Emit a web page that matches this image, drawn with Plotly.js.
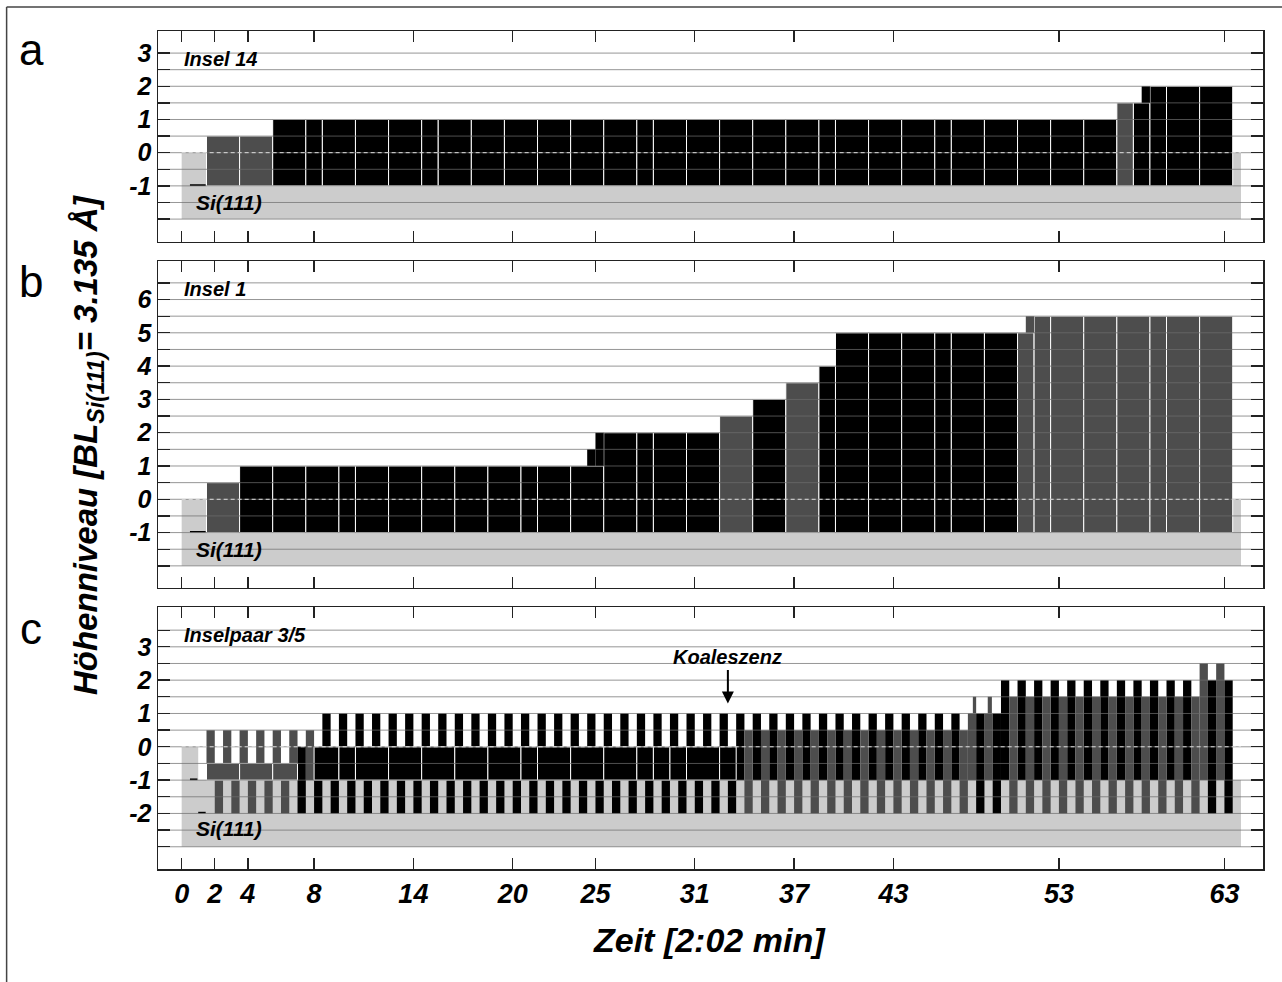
<!DOCTYPE html>
<html><head><meta charset="utf-8">
<script src="https://cdn.plot.ly/plotly-3.0.1.min.js"></script>
<style>html,body{margin:0;padding:0;background:#fff}#chart{width:1282px;height:982px}</style>
</head><body><div id="chart"></div>
<script>
// ---------------- data ----------------
const xTickVals = [0, 2, 4, 8, 14, 20, 25, 31, 37, 43, 53, 63];

// Panel a (Insel 14): island bars between consecutive edges, bottom at level -1
const aEdges = [1.5, 3.5, 5.5, 7.5, 8.5, 10.5, 12.5, 14.5, 15.5, 17.5, 19.5, 21.5, 23.5, 25.5, 27.5, 28.5, 30.5, 32.5, 34.5, 36.5, 38.5, 39.5, 41.5, 43.5, 45.5, 46.5, 48.5, 50.5, 52.5, 54.5, 56.5, 57.5, 58.5, 59.5, 61.5, 63.5];
const aTop = [0.5, 0.5, 1, 1, 1, 1, 1, 1, 1, 1, 1, 1, 1, 1, 1, 1, 1, 1, 1, 1, 1, 1, 1, 1, 1, 1, 1, 1, 1, 1, 1.5, 1.5, 2, 2, 2];
const aColor = ['d', 'd', 'k', 'k', 'k', 'k', 'k', 'k', 'k', 'k', 'k', 'k', 'k', 'k', 'k', 'k', 'k', 'k', 'k', 'k', 'k', 'k', 'k', 'k', 'k', 'k', 'k', 'k', 'k', 'k', 'd', 'k', 'k', 'k', 'k'];
const aStepStart = [58.0], aStepEnd = [58.5], aStepBase = [1.5], aStepTop = [2], aStepColor = ['k'];
const aDashStart = [0.5], aDashEnd = [1.45], aDashLevel = [-1];
const aSubStart = [0, 0, 63.5], aSubEnd = [64, 1.5, 64], aSubBase = [-2, -1, -1], aSubTop = [-1, 0, 0];
const aGrid = [-2, -1.5, -1, -0.5, 0, 0.5, 1, 1.5, 2, 2.5, 3];
const aTickText = ['', '', '-1', '', '0', '', '1', '', '2', '', '3'];

// Panel b (Insel 1)
const bEdges = [1.5, 3.5, 5.5, 7.5, 9.5, 10.5, 12.5, 14.5, 16.5, 18.5, 20.5, 21.5, 23.5, 25.5, 27.5, 28.5, 30.5, 32.5, 34.5, 36.5, 38.5, 39.5, 41.5, 43.5, 45.5, 46.5, 48.5, 50.5, 51.5, 52.5, 54.5, 56.5, 58.5, 59.5, 61.5, 63.5];
const bTop = [0.5, 1, 1, 1, 1, 1, 1, 1, 1, 1, 1, 1, 1, 2, 2, 2, 2, 2.5, 3, 3.5, 4, 5, 5, 5, 5, 5, 5, 5, 5.5, 5.5, 5.5, 5.5, 5.5, 5.5, 5.5];
const bColor = ['d', 'k', 'k', 'k', 'k', 'k', 'k', 'k', 'k', 'k', 'k', 'k', 'k', 'k', 'k', 'k', 'k', 'd', 'k', 'd', 'k', 'k', 'k', 'k', 'k', 'k', 'k', 'd', 'd', 'd', 'd', 'd', 'd', 'd', 'd'];
const bStepStart = [24.5, 25.0, 51.0], bStepEnd = [25.0, 25.5, 51.5], bStepBase = [1, 1, 5], bStepTop = [1.5, 2, 5.5], bStepColor = ['k', 'k', 'd'];
const bDashStart = [0.5], bDashEnd = [1.45], bDashLevel = [-1];
const bSubStart = [0, 0, 63.5], bSubEnd = [64, 1.5, 64], bSubBase = [-2, -1, -1], bSubTop = [-1, 0, 0];
const bGrid = [-2, -1.5, -1, -0.5, 0, 0.5, 1, 1.5, 2, 2.5, 3, 3.5, 4, 4.5, 5, 5.5, 6, 6.5];
const bTickText = ['', '', '-1', '', '0', '', '1', '', '2', '', '3', '', '4', '', '5', '', '6', ''];

// Panel c (Inselpaar 3/5): per-frame half-width stripes of the two islands
const cFrames = [2, 3, 4, 5, 6, 7, 8, 9, 10, 11, 12, 13, 14, 15, 16, 17, 18, 19, 20, 21, 22, 23, 24, 25, 26, 27, 28, 29, 30, 31, 32, 33, 34, 35, 36, 37, 38, 39, 40, 41, 42, 43, 44, 45, 46, 47, 48, 49, 50, 51, 52, 53, 54, 55, 56, 57, 58, 59, 60, 61, 62, 63];
// island on terrace -1 (left half of each frame)
const cLeftTop = [0.5, 0.5, 0.5, 0.5, 0.5, 0.5, 0.5, 1, 1, 1, 1, 1, 1, 1, 1, 1, 1, 1, 1, 1, 1, 1, 1, 1, 1, 1, 1, 1, 1, 1, 1, 1, 1, 1, 1, 1, 1, 1, 1, 1, 1, 1, 1, 1, 1, 1, 1, 1, 2, 2, 2, 2, 2, 2, 2, 2, 2, 2, 2, 2, 2.5, 2.5];
const cLeftColor = ['d', 'd', 'd', 'd', 'd', 'd', 'd', 'k', 'k', 'k', 'k', 'k', 'k', 'k', 'k', 'k', 'k', 'k', 'k', 'k', 'k', 'k', 'k', 'k', 'k', 'k', 'k', 'k', 'k', 'k', 'k', 'k', 'k', 'k', 'k', 'k', 'k', 'k', 'k', 'k', 'k', 'k', 'k', 'k', 'k', 'k', 'd', 'd', 'k', 'k', 'k', 'k', 'k', 'k', 'k', 'k', 'k', 'k', 'k', 'k', 'd', 'd'];
// island on terrace -2 (right half of each frame)
const cRightTop = [-0.5, -0.5, -0.5, -0.5, -0.5, 0, 0, 0, 0, 0, 0, 0, 0, 0, 0, 0, 0, 0, 0, 0, 0, 0, 0, 0, 0, 0, 0, 0, 0, 0, 0, 0, 0.5, 0.5, 0.5, 0.5, 0.5, 0.5, 0.5, 0.5, 0.5, 0.5, 0.5, 0.5, 0.5, 0.5, 1, 1, 1.5, 1.5, 1.5, 1.5, 1.5, 1.5, 1.5, 1.5, 1.5, 1.5, 1.5, 1.5, 2, 2];
const cRightColor = ['d', 'd', 'd', 'd', 'd', 'k', 'k', 'k', 'k', 'k', 'k', 'k', 'k', 'k', 'k', 'k', 'k', 'k', 'k', 'k', 'k', 'k', 'k', 'k', 'k', 'k', 'k', 'k', 'k', 'k', 'k', 'k', 'd', 'd', 'd', 'd', 'd', 'd', 'd', 'd', 'd', 'd', 'd', 'd', 'd', 'd', 'k', 'k', 'd', 'd', 'd', 'd', 'd', 'd', 'd', 'd', 'd', 'd', 'd', 'd', 'k', 'k'];
const cLeftBase = -1, cRightBase = -2;
// overlap (both islands) blocks
const cCommonStart = [1.5, 3.5, 5.5, 8.0, 9.5, 10.5, 12.5, 14.5, 16.5, 18.5, 20.5, 21.5, 23.5, 25.5, 27.5, 28.5, 29.5, 30.5, 32.5];
const cCommonEnd = [3.5, 5.5, 7.0, 9.5, 10.5, 12.5, 14.5, 16.5, 18.5, 20.5, 21.5, 23.5, 25.5, 27.5, 28.5, 29.5, 30.5, 32.5, 33.5];
const cCommonBase = [-1, -1, -1, -1, -1, -1, -1, -1, -1, -1, -1, -1, -1, -1, -1, -1, -1, -1, -1];
const cCommonTop = [-0.5, -0.5, -0.5, 0, 0, 0, 0, 0, 0, 0, 0, 0, 0, 0, 0, 0, 0, 0, 0];
const cCommonColor = ['d', 'd', 'd', 'k', 'k', 'k', 'k', 'k', 'k', 'k', 'k', 'k', 'k', 'k', 'k', 'k', 'k', 'k', 'k'];
// narrow partial steps near frames 48/49
const cStepStart = [47.8, 48.7], cStepEnd = [48.0, 48.95], cStepBase = [1, 1], cStepTop = [1.5, 1.5], cStepColor = ['d', 'd'];
const cDashStart = [0.5, 1.0], cDashEnd = [0.95, 1.45], cDashLevel = [-1, -2];
const cSubStart = [0, 0], cSubEnd = [64, 1.0], cSubBase = [-3, -1], cSubTop = [-1, 0];
const cGrid = [-3, -2.5, -2, -1.5, -1, -0.5, 0, 0.5, 1, 1.5, 2, 2.5, 3, 3.5];
const cTickText = ['', '', '-2', '', '-1', '', '0', '', '1', '', '2', '', '3', ''];

// ---------------- styling ----------------
const COL = {k: '#000000', d: '#4d4d4d', s: '#cccccc'};
const X_RANGE = [-1.43, 65.33];
const GRID_COLOR = 'rgba(110,110,110,0.72)';
const FONT = 'Liberation Sans, Arial, Helvetica, sans-serif';

function bars(starts, ends, bases, tops, colors, xa, ya, outline) {
  return {
    type: 'bar', xaxis: xa, yaxis: ya,
    x: starts.map((s, i) => (s + ends[i]) / 2),
    width: starts.map((s, i) => ends[i] - s),
    base: bases,
    y: tops.map((t, i) => t - bases[i]),
    marker: {color: colors.map(c => COL[c]), line: {color: '#ffffff', width: outline ? 1 : 0}},
    hoverinfo: 'skip', showlegend: false
  };
}
function fromEdges(edges, tops, colors, base, xa, ya) {
  const st = edges.slice(0, -1), en = edges.slice(1);
  return bars(st, en, st.map(() => base), tops, colors, xa, ya, true);
}
function dashes(st, en, lvl, xa, ya) {
  return bars(st, en, lvl, lvl.map(v => v + 0.05), lvl.map(() => 'k'), xa, ya, false);
}
function gridTrace(vals, xa, ya) {
  const x = [], y = [];
  vals.forEach(v => { x.push(X_RANGE[0], X_RANGE[1], null); y.push(v, v, null); });
  return {type: 'scatter', mode: 'lines', x, y, xaxis: xa, yaxis: ya,
    line: {color: GRID_COLOR, width: 1}, hoverinfo: 'skip', showlegend: false};
}
function zeroTrace(xa, ya) {
  return {type: 'scatter', mode: 'lines', x: [0, 64], y: [0, 0], xaxis: xa, yaxis: ya,
    line: {color: '#e0e0e0', width: 1, dash: '4px,3px'}, hoverinfo: 'skip', showlegend: false};
}

const traces = [];
// panel a
traces.push(bars(aSubStart, aSubEnd, aSubBase, aSubTop, aSubStart.map(() => 's'), 'x', 'y', false));
traces.push(fromEdges(aEdges, aTop, aColor, -1, 'x', 'y'));
traces.push(bars(aStepStart, aStepEnd, aStepBase, aStepTop, aStepColor, 'x', 'y', false));
traces.push(dashes(aDashStart, aDashEnd, aDashLevel, 'x', 'y'));
traces.push(gridTrace(aGrid, 'x', 'y'));
traces.push(zeroTrace('x', 'y'));
// panel b
traces.push(bars(bSubStart, bSubEnd, bSubBase, bSubTop, bSubStart.map(() => 's'), 'x2', 'y2', false));
traces.push(fromEdges(bEdges, bTop, bColor, -1, 'x2', 'y2'));
traces.push(bars(bStepStart, bStepEnd, bStepBase, bStepTop, bStepColor, 'x2', 'y2', false));
traces.push(dashes(bDashStart, bDashEnd, bDashLevel, 'x2', 'y2'));
traces.push(gridTrace(bGrid, 'x2', 'y2'));
traces.push(zeroTrace('x2', 'y2'));
// panel c
traces.push(bars(cSubStart, cSubEnd, cSubBase, cSubTop, cSubStart.map(() => 's'), 'x3', 'y3', false));
traces.push(bars(cFrames.map(f => f - 0.5), cFrames.map(f => f), cFrames.map(() => cLeftBase), cLeftTop, cLeftColor, 'x3', 'y3', false));
traces.push(bars(cFrames.map(f => f), cFrames.map(f => f + 0.5), cFrames.map(() => cRightBase), cRightTop, cRightColor, 'x3', 'y3', false));
traces.push(bars(cCommonStart, cCommonEnd, cCommonBase, cCommonTop, cCommonColor, 'x3', 'y3', true));
traces.push(bars(cStepStart, cStepEnd, cStepBase, cStepTop, cStepColor, 'x3', 'y3', false));
traces.push(dashes(cDashStart, cDashEnd, cDashLevel, 'x3', 'y3'));
traces.push(gridTrace(cGrid, 'x3', 'y3'));
traces.push(zeroTrace('x3', 'y3'));

function xAxis(anchor, labels) {
  return {anchor: anchor, domain: [0, 1], range: X_RANGE, type: 'linear',
    tickmode: 'array', tickvals: xTickVals, ticktext: xTickVals.map(String),
    ticks: 'inside', ticklen: 11, tickwidth: 1.3, tickcolor: '#222',
    showline: true, linecolor: '#222', linewidth: 1.5, mirror: 'ticks',
    showgrid: false, zeroline: false, showticklabels: labels,
    tickfont: {family: FONT, size: 27, color: '#000', weight: 'bold', style: 'italic'},
    fixedrange: true};
}
function yAxis(anchor, domain, range, vals, text) {
  return {anchor: anchor, domain: domain, range: range,
    tickmode: 'array', tickvals: vals, ticktext: text,
    ticks: 'inside', ticklen: 12, tickwidth: 1.3, tickcolor: '#222',
    showline: true, linecolor: '#222', linewidth: 1.5, mirror: 'ticks',
    showgrid: false, zeroline: false, ticklabelstandoff: 0,
    tickfont: {family: FONT, size: 25, color: '#000', weight: 'bold', style: 'italic'},
    fixedrange: true};
}

const txt = {family: FONT, size: 20, color: '#000', weight: 'bold', style: 'italic'};
const txtSi = {family: FONT, size: 21, color: '#000', weight: 'bold', style: 'italic'};
const annotations = [
  {xref: 'x', yref: 'y', x: 0, y: 2.82, text: 'Insel 14', showarrow: false, xanchor: 'left', yanchor: 'middle', font: txt},
  {xref: 'x2', yref: 'y2', x: 0, y: 6.32, text: 'Insel 1', showarrow: false, xanchor: 'left', yanchor: 'middle', font: txt},
  {xref: 'x3', yref: 'y3', x: 0, y: 3.36, text: 'Inselpaar 3/5', showarrow: false, xanchor: 'left', yanchor: 'middle', font: txt},
  {xref: 'x', yref: 'y', x: 0.75, y: -1.5, text: 'Si(111)', showarrow: false, xanchor: 'left', yanchor: 'middle', font: txtSi},
  {xref: 'x2', yref: 'y2', x: 0.75, y: -1.5, text: 'Si(111)', showarrow: false, xanchor: 'left', yanchor: 'middle', font: txtSi},
  {xref: 'x3', yref: 'y3', x: 0.75, y: -2.45, text: 'Si(111)', showarrow: false, xanchor: 'left', yanchor: 'middle', font: txtSi},
  {xref: 'x3', yref: 'y3', x: 33, y: 1.3, text: 'Koaleszenz', showarrow: true, ax: 0, ay: -46,
   arrowhead: 2, arrowsize: 1.2, arrowwidth: 2, arrowcolor: '#000', standoff: 0, font: {family: FONT, size: 20, color: '#000', weight: 'bold', style: 'italic'}},
  {xref: 'paper', yref: 'paper', x: -0.0633, y: 0.506, textangle: -90, showarrow: false, xanchor: 'center', yanchor: 'middle',
   text: 'Höhenniveau [BL<sub>Si(111)</sub>= 3.135 Å]', font: {family: FONT, size: 33, color: '#000', weight: 'bold', style: 'italic'}},
  {xref: 'paper', yref: 'paper', x: 0.4995, y: -0.0847, showarrow: false, xanchor: 'center', yanchor: 'middle',
   text: 'Zeit [2:02 min]', font: {family: FONT, size: 34, color: '#000', weight: 'bold', style: 'italic'}},
  {xref: 'paper', yref: 'paper', x: -0.1149, y: 0.978, showarrow: false, xanchor: 'center', yanchor: 'middle', text: 'a', font: {family: FONT, size: 44, color: '#000'}},
  {xref: 'paper', yref: 'paper', x: -0.1149, y: 0.7014, showarrow: false, xanchor: 'center', yanchor: 'middle', text: 'b', font: {family: FONT, size: 44, color: '#000'}},
  {xref: 'paper', yref: 'paper', x: -0.1149, y: 0.2874, showarrow: false, xanchor: 'center', yanchor: 'middle', text: 'c', font: {family: FONT, size: 44, color: '#000'}}
];

const layout = {
  width: 1282, height: 982,
  margin: {l: 158, r: 19, t: 31, b: 113},
  paper_bgcolor: '#ffffff', plot_bgcolor: '#ffffff',
  barmode: 'overlay', showlegend: false,
  xaxis: xAxis('y', false), xaxis2: xAxis('y2', false), xaxis3: xAxis('y3', true),
  yaxis: yAxis('x', [0.7486, 1], [-2.68, 3.665], aGrid, aTickText),
  yaxis2: yAxis('x2', [0.3357, 0.7255], [-2.655, 7.156], bGrid, bTickText),
  yaxis3: yAxis('x3', [0, 0.3123], [-3.667, 4.186], cGrid, cTickText),
  annotations: annotations,
  shapes: [
    {type: 'line', xref: 'paper', yref: 'paper', x0: -0.137, x1: 1.02, y0: 1.0286, y1: 1.0286, line: {color: '#444', width: 1.5}},
    {type: 'line', xref: 'paper', yref: 'paper', x0: -0.137, x1: -0.137, y0: 1.0286, y1: -0.14, line: {color: '#444', width: 1.5}}
  ]
};

Plotly.newPlot('chart', traces, layout, {displayModeBar: false, staticPlot: true});
</script>
</body></html>
